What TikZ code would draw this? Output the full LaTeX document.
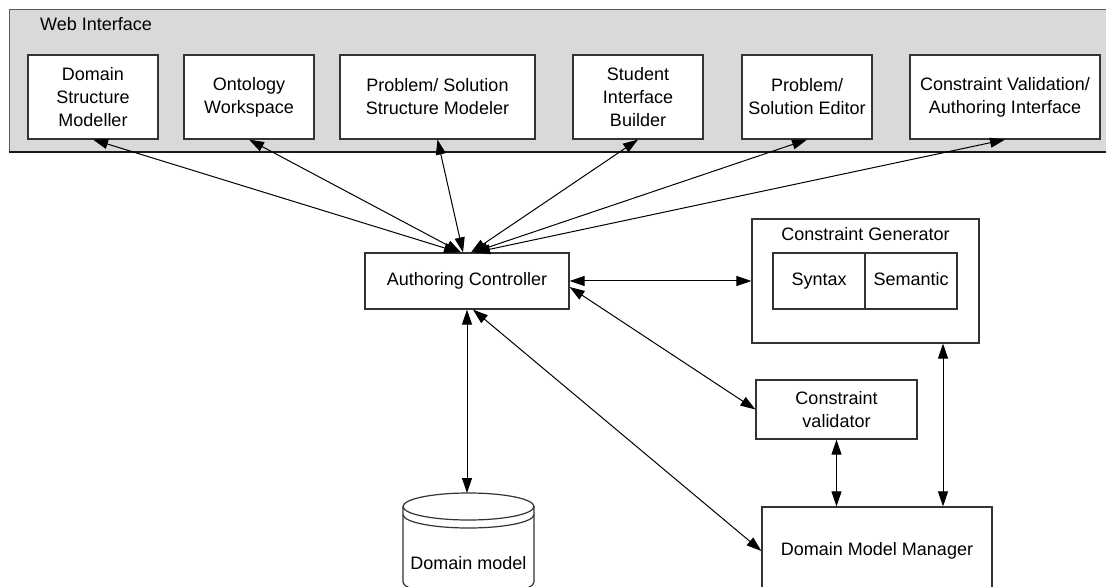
\documentclass[tikz,border=0pt]{standalone}
\usepackage{fontspec}
\setmainfont{Liberation Sans}
\usetikzlibrary{arrows.meta}

\begin{document}
\begin{tikzpicture}[x=0.5pt, y=-0.5pt,
  box/.style={rectangle, draw=black!80, line width=0.6pt, fill=white, align=center, inner sep=0pt, font=\fontsize{9}{11.5}\selectfont},
  txt/.style={align=center, inner sep=0pt, font=\fontsize{9}{11.5}\selectfont},
  link/.style={{Triangle[length=7.5pt,width=5pt]}-{Triangle[length=7.5pt,width=5pt]}, line width=0.5pt}]
\useasboundingbox (0,0) rectangle (1106,587);
\clip (0,0) rectangle (1106,587);

\node[rectangle, draw=black!65, fill=black!15, line width=0.6pt, inner sep=0pt, minimum width=560pt, minimum height=71pt, anchor=north west] (web) at (9,9) {};
\draw[black!90, line width=0.7pt] (web.south west) -- (web.south east);
\node[txt] (weblabel) at (96,24) {Web Interface};

\node[box, minimum width=65pt, minimum height=42pt] (dsm) at (93,97) {Domain\\Structure\\Modeller};
\node[box, minimum width=65pt, minimum height=42pt] (onto) at (249,97) {Ontology\\Workspace};
\node[box, minimum width=97.5pt, minimum height=42pt] (psm) at (437.5,97) {Problem/ Solution\\Structure Modeler};
\node[box, minimum width=65pt, minimum height=42pt] (sib) at (638,97) {Student\\Interface\\Builder};
\node[box, minimum width=65pt, minimum height=42pt] (pse) at (807,97) {Problem/\\Solution Editor};
\node[box, minimum width=95pt, minimum height=42pt] (cva) at (1005,97) {Constraint Validation/\\Authoring Interface};

\node[box, minimum width=102pt, minimum height=28pt] (ac) at (467,281) {Authoring Controller};

\node[box, minimum width=113.5pt, minimum height=62pt] (cg) at (865.5,281) {};
\node[txt] (cgtitle) at (865.5,234) {Constraint Generator};
\node[box, minimum width=46pt, minimum height=28pt, text height=6.5pt, text depth=2pt] (syn) at (819,281) {Syntax};
\node[box, minimum width=46pt, minimum height=28pt, text height=6.5pt, text depth=2pt] (sem) at (911,281) {Semantic};

\node[box, minimum width=80.5pt, minimum height=29.5pt] (cv) at (836.5,409.5) {Constraint\\validator};
\node[box, minimum width=115pt, minimum height=44pt] (dmm) at (877,551) {Domain Model Manager};

\draw[draw=black!80, line width=0.6pt, fill=white] (403,506.5) -- (403,582)
  arc[start angle=180, end angle=360, x radius=32.75pt, y radius=6.75pt] -- (534,506.5)
  arc[start angle=0, end angle=180, x radius=32.75pt, y radius=6.75pt] -- cycle;
\draw[draw=black!80, line width=0.6pt] (403,506.5) arc[start angle=180, end angle=360, x radius=32.75pt, y radius=6.75pt];
\draw[draw=black!80, line width=0.6pt] (403,514.5) arc[start angle=180, end angle=360, x radius=32.75pt, y radius=6.75pt];
\node[txt] (dm) at (468.5,563) {Domain model};
\coordinate (dmtop) at (468.5,493);

\draw[link] (dsm.south) -- ([xshift=-4pt]ac.north);
\draw[link] (onto.south) -- ([xshift=-3pt]ac.north);
\draw[link] (psm.south) -- ([xshift=-2pt]ac.north);
\draw[link] (sib.south) -- ([xshift=2pt]ac.north);
\draw[link] (pse.south) -- ([xshift=3pt]ac.north);
\draw[link] (cva.south) -- ([xshift=4pt]ac.north);

\draw[link] (ac.east) -- (cg.west);
\draw[link] ([yshift=-3pt]ac.east) -- (cv.west);
\draw[link] ([xshift=3pt]ac.south) -- (dmm.west);
\draw[link] (ac.south) -- (ac.south |- dmtop);
\draw[link] (cv.south) -- (cv.south |- dmm.north);
\draw[link] ([xshift=33pt]dmm.north) -- ([xshift=33pt]dmm.north |- cg.south);
\end{tikzpicture}
\end{document}
